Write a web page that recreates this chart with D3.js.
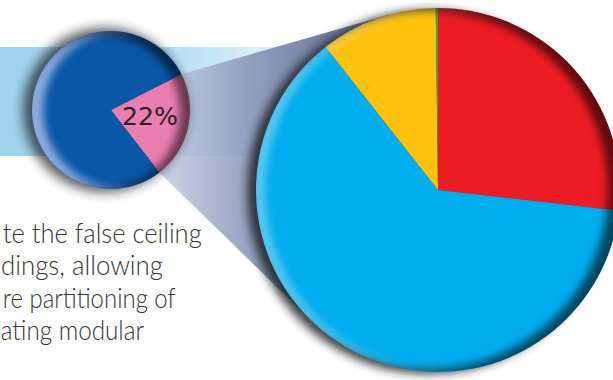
<!DOCTYPE html>
<html><head><meta charset="utf-8">
<script src="https://cdn.jsdelivr.net/npm/d3@7"></script>
<style>html,body{margin:0;padding:0;background:#fff;overflow:hidden}</style>
</head><body><svg id="chart" width="613" height="380"></svg>
<script>
// ---- data ----
const bigCategories = ["Red", "Blue", "Yellow", "Green"];
const bigValues = [26.8, 62.6, 10.4, 0.2];
const bigColors = ["#ec1c24", "#00adee", "#fec20f", "#3aa935"];
const smallCategories = ["Share", "Rest"];
const smallValues = [22, 78];
const smallColors = ["#e97eb0", "#0a57a8"];
const smallLabel = "22%";
const textLines = ["te the false ceiling", "dings, allowing", "re partitioning of", "ating modular"];

// ---- layout ----
const W = 613, H = 380;
const big = {cx: 438, cy: 190, r: 182};
const small = {cx: 111, cy: 110, r: 79};
const smallStart = 63 * Math.PI / 180;

const svg = d3.select("#chart");
const defs = svg.append("defs");

function blurFilter(id, sd) {
  const f = defs.append("filter").attr("id", id)
    .attr("x", "-50%").attr("y", "-50%").attr("width", "200%").attr("height", "200%");
  f.append("feGaussianBlur").attr("stdDeviation", sd);
}
blurFilter("blur3", 3);
blurFilter("blur4", 4);
blurFilter("blur5", 5);
blurFilter("blur6", 6);

// band gradient
const bandGrad = defs.append("linearGradient").attr("id", "bandGrad")
  .attr("gradientUnits", "userSpaceOnUse").attr("x1", 0).attr("x2", 300).attr("y1", 0).attr("y2", 0);
bandGrad.append("stop").attr("offset", 0).attr("stop-color", "#9ed3ee");
bandGrad.append("stop").attr("offset", 0.55).attr("stop-color", "#b2def2");
bandGrad.append("stop").attr("offset", 1).attr("stop-color", "#eaf5fb");

// cone gradient
const coneGrad = defs.append("linearGradient").attr("id", "coneGrad")
  .attr("gradientUnits", "userSpaceOnUse").attr("x1", 175).attr("x2", 320).attr("y1", 0).attr("y2", 0);
coneGrad.append("stop").attr("offset", 0).attr("stop-color", "#bec4dc");
coneGrad.append("stop").attr("offset", 0.45).attr("stop-color", "#8c97ba");
coneGrad.append("stop").attr("offset", 1).attr("stop-color", "#5e6a92");

// clip paths
defs.append("clipPath").attr("id", "clipBig").append("circle")
  .attr("cx", big.cx).attr("cy", big.cy).attr("r", big.r);
defs.append("clipPath").attr("id", "clipSmall").append("circle")
  .attr("cx", small.cx).attr("cy", small.cy).attr("r", small.r);

// ---- light blue band ----
svg.append("rect").attr("x", 0).attr("y", 47).attr("width", 300).attr("height", 109)
  .attr("fill", "url(#bandGrad)");

// ---- projection cone (tangent lines from the small slice to the big pie) ----
function pt(c, a, r) { return [c.cx + r * Math.sin(a), c.cy - r * Math.cos(a)]; }
function tangent(P, c, upper) {
  const dx = P[0] - c.cx, dy = P[1] - c.cy;
  const d = Math.hypot(dx, dy);
  const base = Math.atan2(dy, dx);
  const th = Math.acos(c.r / d);
  const cands = [base + th, base - th].map(a => [c.cx + c.r * Math.cos(a), c.cy + c.r * Math.sin(a)]);
  cands.sort((p, q) => p[1] - q[1]);
  return upper ? cands[0] : cands[1];
}
const smallPie = d3.pie().sort(null).startAngle(smallStart).endAngle(smallStart + 2 * Math.PI)(smallValues);
const sl = smallPie[0];
const P1 = pt(small, sl.startAngle, small.r);
const P2 = pt(small, sl.endAngle, small.r);
const T1 = tangent(P1, big, true);
const T2 = tangent(P2, big, false);
svg.append("path")
  .attr("d", d3.line()([[small.cx, small.cy], P1, T1, [big.cx, big.cy], T2, P2]) + "Z")
  .attr("fill", "url(#coneGrad)").attr("opacity", 0.85);

// ---- pie drawer with shadow + bevel ----
function drawPie(c, arcsData, colors, clipId, opts) {
  const g = svg.append("g");
  // drop shadow
  g.append("circle").attr("cx", c.cx + opts.sdx).attr("cy", c.cy + opts.sdy).attr("r", c.r + opts.sgrow)
    .attr("fill", "#1e2228").attr("opacity", opts.sop).attr("filter", `url(#${opts.sblur})`);
  const arc = d3.arc().innerRadius(0).outerRadius(c.r);
  g.append("g").attr("transform", `translate(${c.cx},${c.cy})`)
    .selectAll("path").data(arcsData).join("path")
    .attr("d", arc).attr("fill", (d, i) => colors[i]);
  const bev = g.append("g").attr("clip-path", `url(#${clipId})`);
  // light crescent on the left
  bev.append("circle").attr("cx", c.cx + opts.ld).attr("cy", c.cy).attr("r", c.r + 30)
    .attr("fill", "none").attr("stroke", opts.lightColor).attr("stroke-width", 60)
    .attr("opacity", opts.lop).attr("filter", "url(#blur4)");
  // dark crescent on the right / edges
  bev.append("circle").attr("cx", c.cx - opts.dd).attr("cy", c.cy + opts.ddy).attr("r", c.r - opts.dshrink + 30)
    .attr("fill", "none").attr("stroke", "#000").attr("stroke-width", 60)
    .attr("opacity", opts.dop).attr("filter", "url(#blur4)");
  return g;
}

drawPie(big, d3.pie().sort(null)(bigValues), bigColors, "clipBig",
  {sdx: -9, sdy: 2, sgrow: 0, sblur: "blur5", sop: 0.85, ld: 9, lightColor: "#ffffff", lop: 0.35, dd: 9, ddy: 0, dshrink: 3, dop: 0.6});

drawPie(small, smallPie, smallColors, "clipSmall",
  {sdx: -6, sdy: 0, sgrow: 3, sblur: "blur6", sop: 0.75, ld: 11, lightColor: "#d8dcff", lop: 0.65, dd: 8, ddy: 2, dshrink: 2, dop: 0.55});

// label on highlighted slice
svg.append("text").attr("x", 122).attr("y", 125)
  .attr("font-family", "DejaVu Sans").attr("font-size", 24)
  .attr("textLength", 56).attr("lengthAdjust", "spacingAndGlyphs")
  .attr("fill", "#2a1f24").text(smallLabel);

// ---- body text ----
const textX = [2.7, 1, 2.7, 0.7];
const textY = [243, 275, 307.5, 340];
const textW = [199, 162, 173, 143.3];
svg.append("g").selectAll("text").data(textLines).join("text")
  .attr("x", (d, i) => textX[i]).attr("y", (d, i) => textY[i])
  .attr("font-family", "Lato").attr("font-weight", 300).attr("font-size", 26.5)
  .attr("fill", "#363636")
  .attr("textLength", (d, i) => textW[i]).attr("lengthAdjust", "spacingAndGlyphs")
  .text(d => d);
</script></body></html>
